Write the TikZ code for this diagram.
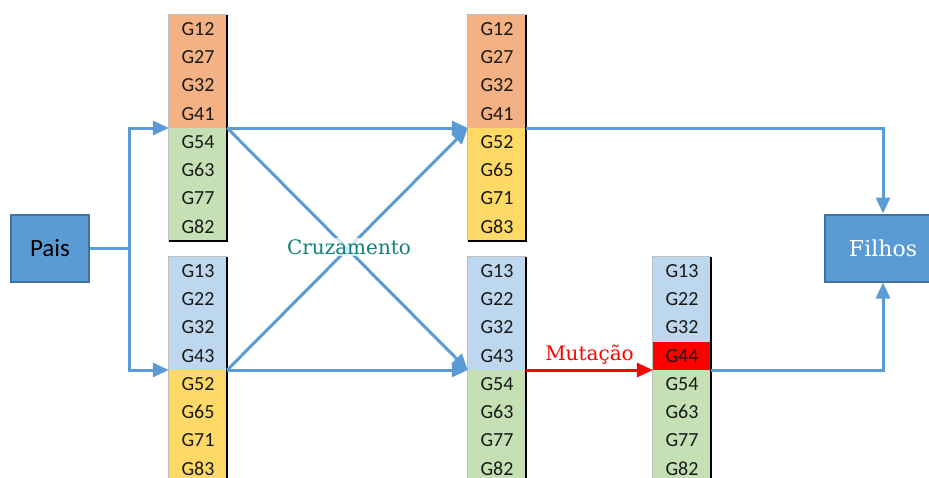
\documentclass[tikz,border=0pt]{standalone}
\usepackage{fontspec}
\setsansfont{Carlito}
\newfontfamily\labelfont{DejaVu Serif}
\usetikzlibrary{arrows.meta,positioning}

\definecolor{linkblue}{RGB}{91,155,213}
\definecolor{boxedge}{RGB}{65,113,156}
\definecolor{orangecell}{RGB}{244,177,131}
\definecolor{greencell}{RGB}{197,224,180}
\definecolor{bluecell}{RGB}{189,215,238}
\definecolor{yellowcell}{RGB}{255,217,102}
\definecolor{crosscolor}{RGB}{16,128,124}

\tikzset{
  gene/.style={rectangle, minimum width=58pt, minimum height=28.2pt, inner sep=0pt,
               font=\sffamily\fontsize{20}{20}\selectfont, text=black!90},
  link/.style={draw=linkblue, line width=3pt, -{Triangle[length=16pt,width=14pt]}},
  bigbox/.style={rectangle, fill=linkblue, draw=boxedge, line width=2pt, minimum height=67pt},
}

% one chromosome: name, x of centre, top y, list of gene/colour
\newcommand{\genecolumn}[4]{%
  \foreach \g/\c [count=\i] in {#4}
    \node[gene, fill=\c] (#1\i) at (#2, #3+14.1+28.2*\i-28.2) {\g};
  \draw[black!25, line width=0.8pt] (#18.south west) -- (#11.north west) -- (#11.north east);
  \draw[black, line width=2pt] (#11.north east) -- (#18.south east) -- (#18.south west);
}

\begin{document}
\begin{tikzpicture}[x=1pt,y=-1pt]
\useasboundingbox (0,0) rectangle (929,477);
\clip (0,0) rectangle (929,477);

% parents
\genecolumn{pa}{198}{15}{G12/orangecell,G27/orangecell,G32/orangecell,G41/orangecell,
  G54/greencell,G63/greencell,G77/greencell,G82/greencell}
\genecolumn{pb}{198}{257}{G13/bluecell,G22/bluecell,G32/bluecell,G43/bluecell,
  G52/yellowcell,G65/yellowcell,G71/yellowcell,G83/yellowcell}

% children after crossover
\genecolumn{fa}{497}{15}{G12/orangecell,G27/orangecell,G32/orangecell,G41/orangecell,
  G52/yellowcell,G65/yellowcell,G71/yellowcell,G83/yellowcell}
\genecolumn{fb}{497}{257}{G13/bluecell,G22/bluecell,G32/bluecell,G43/bluecell,
  G54/greencell,G63/greencell,G77/greencell,G82/greencell}

% mutated child
\genecolumn{m}{682}{257}{G13/bluecell,G22/bluecell,G32/bluecell,G44/red,
  G54/greencell,G63/greencell,G77/greencell,G82/greencell}

\node[bigbox, minimum width=78pt, font=\sffamily\fontsize{25}{25}\selectfont] (pais) at (50,248) {Pais};
\node[bigbox, minimum width=116pt, text=white, font=\labelfont\fontsize{22}{22}\selectfont] (filhos) at (883,248) {Filhos};

\coordinate (split) at (129,248);
\draw[link] (pais.east) -- (split) |- (pa4.south west);
\draw[link] (split) |- (pb4.south west);

% crossover
\draw[link] (pa4.south east) -- (fa4.south west);
\draw[link] (pa4.south east) -- (fb4.south west);
\draw[link] (pb4.south east) -- (fa4.south west);
\draw[link] (pb4.south east) -- (fb4.south west);
\node[fill=white, fill opacity=0.75, text opacity=1, text=crosscolor, inner sep=1pt,
      font=\labelfont\fontsize{20}{20}\selectfont] (cruz) at (349,247) {Cruzamento};

% mutation
\draw[link, draw=red] (fb4.south east) -- node[above=1pt, text=red, font=\labelfont\fontsize{20}{20}\selectfont] {Mutação} (m4.south west);

\draw[link] (fa4.south east) -| (filhos.north);
\draw[link] (m4.south east) -| (filhos.south);
\end{tikzpicture}
\end{document}
